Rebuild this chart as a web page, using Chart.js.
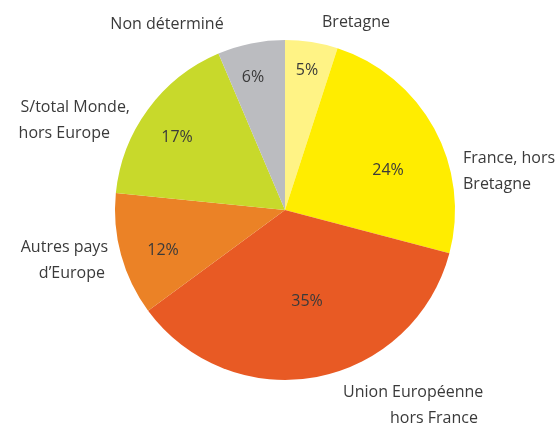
<!DOCTYPE html>
<html>
<head>
<meta charset="utf-8">
<script src="https://cdn.jsdelivr.net/npm/chart.js@4"></script>
<style>
  html, body { margin: 0; padding: 0; background: #fff; }
  #wrap { width: 560px; height: 423px; position: relative; }
</style>
</head>
<body>
<div id="wrap"><canvas id="pie_chart"></canvas></div>
<script>
const categories = ['Bretagne', 'France, hors Bretagne', 'Union Européenne hors France', "Autres pays d'Europe", 'S/total Monde, hors Europe', 'Non déterminé'];
const shares = [5.0, 24.1, 35.8, 11.7, 17.0, 6.4];
const shareLabels = ['5%', '24%', '35%', '12%', '17%', '6%'];
const labelLines = [['Bretagne'], ['France, hors', 'Bretagne'], ['Union Européenne', 'hors France'], ['Autres pays', 'd\u2019Europe'], ['S/total Monde,', 'hors Europe'], ['Non déterminé']];
const colors = ['#FFF385', '#FFED00', '#E85A24', '#EB8226', '#C8D92B', '#BBBCC0'];

// text placement, offsets from the pie centre (px)
const pctOffsets = [[22, -140], [103, -40], [22, 91], [-122, 40], [-108, -73], [-32, -133]];
const labelOffsets = [
    { dx: 37, dy: -188, align: 'left' },
    { dx: 178, dy: -52, align: 'left', gap: 26 },
    { dx: 58, dy: 182, align: 'left', lineDx: [0, 47], gap: 26 },
    { dx: -177, dy: 37, align: 'right', lineDx: [0, -3], gap: 26 },
    { dx: -155, dy: -103, align: 'right', lineDx: [0, -20], gap: 26 },
    { dx: -118, dy: -186, align: 'center' }
];

const textPlugin = {
    id: 'pieText',
    afterDatasetsDraw(chart) {
        const ctx = chart.ctx;
        const arcs = chart.getDatasetMeta(0).data;
        if (!arcs.length) return;
        const cx = arcs[0].x, cy = arcs[0].y;
        ctx.save();
        ctx.fillStyle = '#3a3a3a';
        ctx.font = '16px "Open Sans", "Noto Sans", sans-serif';
        ctx.textBaseline = 'middle';
        ctx.textAlign = 'center';
        shareLabels.forEach((t, i) => {
            ctx.fillText(t, cx + pctOffsets[i][0], cy + pctOffsets[i][1]);
        });
        labelLines.forEach((lines, i) => {
            const o = labelOffsets[i];
            ctx.textAlign = o.align;
            lines.forEach((line, j) => {
                const ldx = o.lineDx ? o.lineDx[j] : 0;
                ctx.fillText(line, cx + o.dx + ldx, cy + o.dy + j * (o.gap || 0));
            });
        });
        ctx.restore();
    }
};

new Chart(document.getElementById('pie_chart'), {
    type: 'pie',
    data: {
        labels: categories,
        datasets: [{
            data: shares,
            backgroundColor: colors,
            borderWidth: 0
        }]
    },
    options: {
        responsive: true,
        maintainAspectRatio: false,
        animation: false,
        layout: { padding: { left: 115, right: 105, top: 40, bottom: 43 } },
        plugins: {
            legend: { display: false },
            tooltip: { enabled: false }
        }
    },
    plugins: [textPlugin]
});
</script>
</body>
</html>
